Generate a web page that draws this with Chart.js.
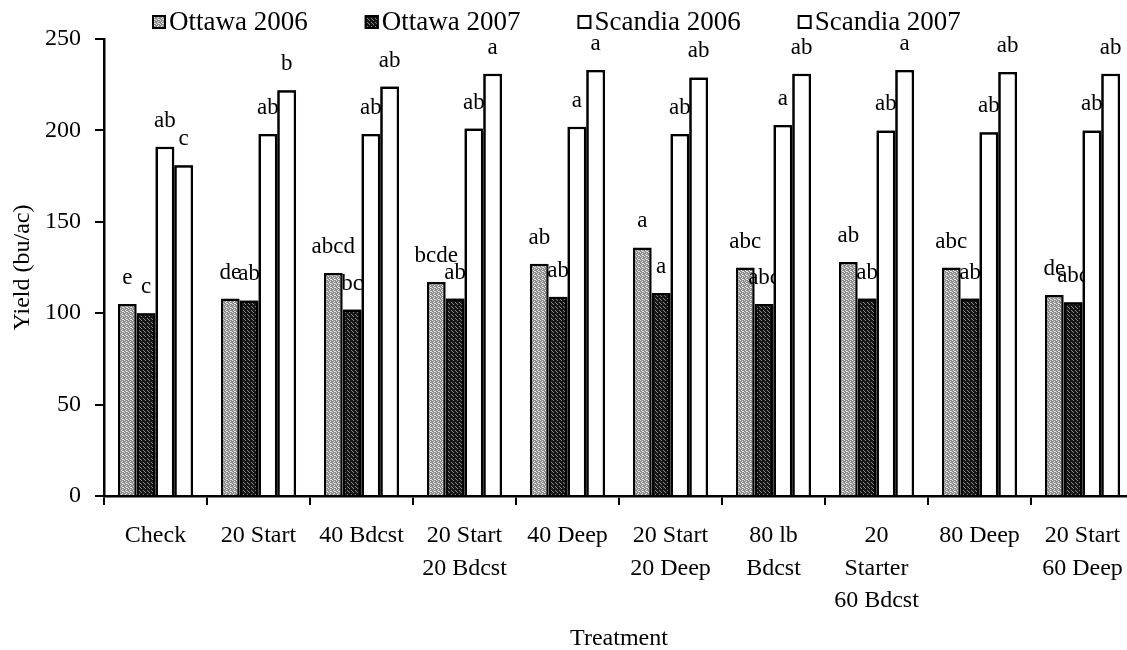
<!DOCTYPE html>
<html>
<head>
<meta charset="utf-8">
<script src="https://cdn.jsdelivr.net/npm/chart.js@4.4.1/dist/chart.umd.min.js"></script>
<style>
  html, body { margin: 0; padding: 0; background: #fff; overflow: hidden; }
  #wrap { width: 1160px; height: 650px; }
</style>
</head>
<body>
<div id="wrap"><canvas id="chart" width="1160" height="650"></canvas></div>
<script>
'use strict';

// ── Data ─────────────────────────────────────────────────────────────────────

const treatments = [
  'Check', '20 Start', '40 Bdcst', ['20 Start', '20 Bdcst'], '40 Deep',
  ['20 Start', '20 Deep'], ['80 lb', 'Bdcst'], ['20', 'Starter', '60 Bdcst'],
  '80 Deep', ['20 Start', '60 Deep'],
];

const ottawa2006  = [105, 108, 122, 117, 127, 136, 125, 128, 125, 110];
const ottawa2007  = [100, 107, 102, 108, 109, 111, 105, 108, 108, 106];
const scandia2006 = [191, 198, 198, 201, 202, 198, 203, 200, 199, 200];
const scandia2007 = [181, 222, 224, 231, 233, 229, 231, 233, 232, 231];

const ottawa2006Letters  = ['e', 'de', 'abcd', 'bcde', 'ab', 'a', 'abc', 'ab', 'abc', 'de'];
const ottawa2007Letters  = ['c', 'ab', 'bc', 'ab', 'ab', 'a', 'abc', 'ab', 'ab', 'abc'];
const scandia2006Letters = ['ab', 'ab', 'ab', 'ab', 'a', 'ab', 'a', 'ab', 'ab', 'ab'];
const scandia2007Letters = ['c', 'b', 'ab', 'a', 'a', 'ab', 'ab', 'a', 'ab', 'ab'];

const yTicks = [0, 50, 100, 150, 200, 250];

// ── Helpers ──────────────────────────────────────────────────────────────────

const SERIF = "'Liberation Serif', 'Times New Roman', serif";

// speckled fill like the scanned print
function speckle(base, dot, cells) {
  const c = document.createElement('canvas');
  c.width = 4; c.height = 4;
  const g = c.getContext('2d');
  g.fillStyle = base;
  g.fillRect(0, 0, 4, 4);
  g.fillStyle = dot;
  cells.forEach(([x, y]) => g.fillRect(x, y, 1, 1));
  return g.createPattern(c, 'repeat');
}

const lightFill = speckle('#8c8c8c', '#e6e6e6', [[0, 0], [2, 1], [1, 2], [3, 3], [2, 3]]);
const darkFill  = speckle('#141414', '#8a8a8a', [[1, 0], [3, 2], [0, 3]]);

function series(label, data, fill, letters) {
  return {
    label, data, letters,
    backgroundColor: fill,
    borderColor: '#000',
    borderWidth: 2.5,
    borderSkipped: 'start',
    categoryPercentage: 0.73,
    barPercentage: 1.0,
  };
}

// ── Plugins ──────────────────────────────────────────────────────────────────

// letters above bars; each later series is redrawn so it hides the earlier labels
const lettersPlugin = {
  id: 'letters',
  afterDatasetsDraw(chart) {
    const ctx = chart.ctx;
    chart.data.datasets.forEach((ds, i) => {
      const meta = chart.getDatasetMeta(i);
      if (i > 0) meta.controller.draw();
      ctx.save();
      ctx.font = '23px ' + SERIF;
      ctx.fillStyle = '#000';
      ctx.textAlign = 'center';
      ctx.textBaseline = 'alphabetic';
      meta.data.forEach((bar, j) => ctx.fillText(ds.letters[j], bar.x, bar.y - 20));
      ctx.restore();
    });
  },
};

// legend row at the top
const legendPlugin = {
  id: 'rowLegend',
  afterDraw(chart, args, opts) {
    const ctx = chart.ctx;
    let x = opts.left;
    ctx.save();
    ctx.font = opts.fontSize + 'px ' + SERIF;
    ctx.textBaseline = 'alphabetic';
    ctx.textAlign = 'left';
    chart.data.datasets.forEach(ds => {
      ctx.fillStyle = ds.backgroundColor;
      ctx.fillRect(x, opts.baseline - 15, 14, 14);
      ctx.lineWidth = 2;
      ctx.strokeStyle = '#000';
      ctx.strokeRect(x + 1, opts.baseline - 14, 12, 12);
      ctx.fillStyle = '#000';
      ctx.fillText(ds.label, x + 17, opts.baseline);
      x += 17 + ctx.measureText(ds.label).width + opts.gap;
    });
    ctx.restore();
  },
};

// ── Chart ────────────────────────────────────────────────────────────────────

new Chart(document.getElementById('chart'), {
  type: 'bar',
  data: {
    labels: treatments,
    datasets: [
      series('Ottawa 2006', ottawa2006, lightFill, ottawa2006Letters),
      series('Ottawa 2007', ottawa2007, darkFill, ottawa2007Letters),
      series('Scandia 2006', scandia2006, '#fff', scandia2006Letters),
      series('Scandia 2007', scandia2007, '#fff', scandia2007Letters),
    ],
  },
  options: {
    responsive: false,
    animation: false,
    layout: { padding: { top: 39, right: 26, left: 0, bottom: 0 } },
    plugins: {
      legend: { display: false },
      tooltip: { enabled: false },
      rowLegend: { left: 152, baseline: 30, gap: 57, fontSize: 27 },
    },
    scales: {
      x: {
        offset: true,
        grid: {
          offset: true, drawOnChartArea: false, drawTicks: true,
          tickLength: 9, color: '#000', lineWidth: 2,
        },
        border: { color: '#000', width: 2.5 },
        ticks: {
          color: '#000', padding: 15, maxRotation: 0, autoSkip: false,
          font: { family: SERIF, size: 24, lineHeight: 1.35 },
        },
        title: {
          display: true, text: 'Treatment', color: '#000',
          font: { family: SERIF, size: 24, lineHeight: 0.9 },
          padding: { top: 0, bottom: 0 },
        },
        afterFit: s => { s.height = 154; },
      },
      y: {
        min: 0, max: 250,
        afterBuildTicks: s => { s.ticks = yTicks.map(v => ({ value: v })); },
        grid: {
          drawOnChartArea: false, drawTicks: true,
          tickLength: 9, color: '#000', lineWidth: 2,
        },
        border: { color: '#000', width: 2.5 },
        ticks: {
          color: '#000', padding: 14,
          font: { family: SERIF, size: 24 },
        },
        title: {
          display: true, text: 'Yield (bu/ac)', color: '#000',
          font: { family: SERIF, size: 24 },
          padding: { top: 8, bottom: 0 },
        },
        afterFit: s => { s.width = 104; },
      },
    },
  },
  plugins: [lettersPlugin, legendPlugin],
});
</script>
</body>
</html>
